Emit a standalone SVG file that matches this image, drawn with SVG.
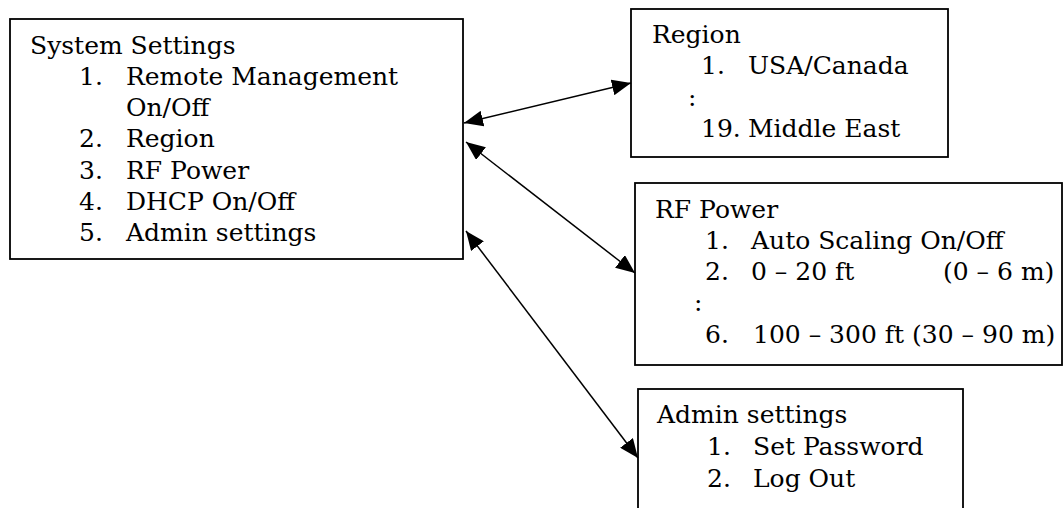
<svg xmlns="http://www.w3.org/2000/svg" width="1063" height="508" viewBox="0 0 1063 508">
<style>
.box{fill:#fff;stroke:#000;stroke-width:1.8}
text{font-family:"DejaVu Serif","Liberation Serif",serif;font-size:25px;fill:#000}
.conn{stroke:#000;stroke-width:1.5;fill:none}
</style>
<defs>
<marker id="ah" markerUnits="userSpaceOnUse" markerWidth="20" markerHeight="16" viewBox="0 0 20 16" refX="19" refY="8" orient="auto-start-reverse">
<path d="M0,0 L19,8 L0,16 Z" fill="#000"/>
</marker>
</defs>
<rect width="1063" height="508" fill="#fff"/>
<g id="system-settings">
<rect class="box" x="10" y="19" width="453" height="240"/>
<text x="30" y="54">System Settings</text>
<text x="79" y="85">1.</text><text x="126" y="85">Remote Management</text>
<text x="126" y="116">On/Off</text>
<text x="79" y="147">2.</text><text x="126" y="147">Region</text>
<text x="79" y="179">3.</text><text x="126" y="179">RF Power</text>
<text x="79" y="210">4.</text><text x="126" y="210">DHCP On/Off</text>
<text x="79" y="241">5.</text><text x="126" y="241">Admin settings</text>
</g>
<g id="region">
<rect class="box" x="631" y="9" width="317" height="148"/>
<text x="652" y="43">Region</text>
<text x="701" y="74">1.</text><text x="748" y="74">USA/Canada</text>
<text x="688" y="106">:</text>
<text x="701" y="137">19.</text><text x="748" y="137">Middle East</text>
</g>
<g id="rf-power">
<rect class="box" x="635" y="183" width="427" height="182"/>
<text x="655" y="218">RF Power</text>
<text x="705" y="249">1.</text><text x="751" y="249">Auto Scaling On/Off</text>
<text x="705" y="280">2.</text><text x="751" y="280">0 – 20 ft</text><text x="943" y="280">(0 – 6 m)</text>
<text x="694" y="311">:</text>
<text x="705" y="343">6.</text><text x="753" y="343">100 – 300 ft (30 – 90 m)</text>
</g>
<g id="admin-settings">
<rect class="box" x="638" y="389" width="325" height="130"/>
<text x="657" y="423">Admin settings</text>
<text x="707" y="455">1.</text><text x="753" y="455">Set Password</text>
<text x="707" y="487">2.</text><text x="753" y="487">Log Out</text>
</g>
<g id="connectors">
<line class="conn" x1="464" y1="123" x2="631" y2="83" marker-start="url(#ah)" marker-end="url(#ah)"/>
<line class="conn" x1="466" y1="142" x2="635" y2="273" marker-start="url(#ah)" marker-end="url(#ah)"/>
<line class="conn" x1="466" y1="231" x2="638" y2="458" marker-start="url(#ah)" marker-end="url(#ah)"/>
</g>
</svg>
